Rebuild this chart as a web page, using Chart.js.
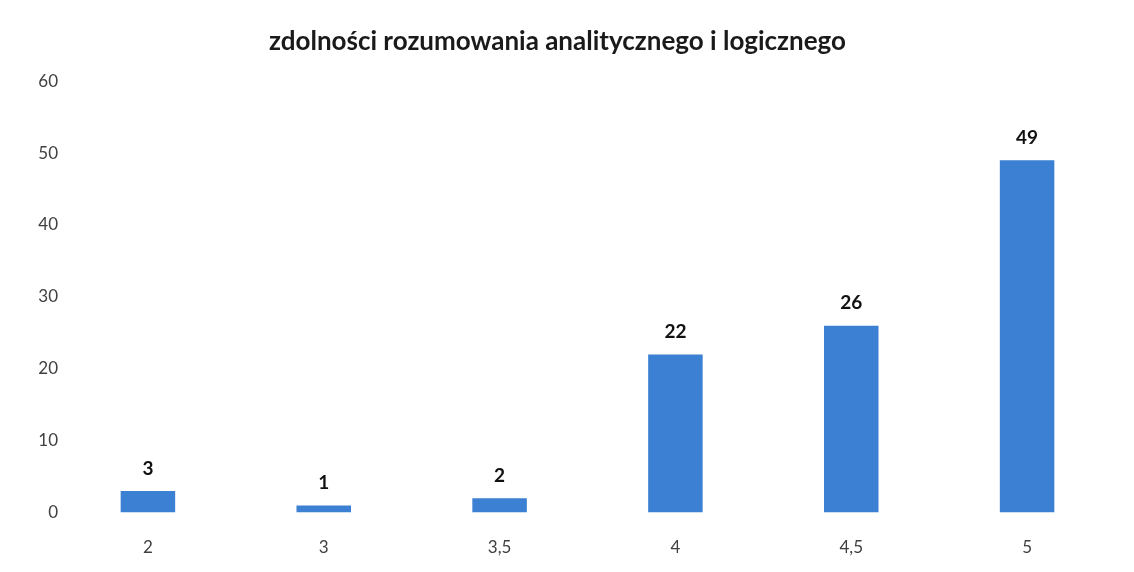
<!DOCTYPE html>
<html>
<head>
<meta charset="utf-8">
<script src="https://cdn.jsdelivr.net/npm/chart.js@4"></script>
<style>
    html, body { margin: 0; padding: 0; background: #ffffff; }
    #wrap { width: 1134px; height: 572px; }
</style>
</head>
<body>
<div id="wrap"><canvas id="barChart" width="1134" height="572"></canvas></div>
<script>
// data
const categories = ['2', '3', '3,5', '4', '4,5', '5'];
const counts = [3, 1, 2, 22, 26, 49];
const yTicks = [0, 10, 20, 30, 40, 50, 60];

Chart.defaults.font.family = "Lato, 'Open Sans', sans-serif";
Chart.defaults.color = '#404040';

// value above each bar, bold black
const valueLabels = {
    id: 'valueLabels',
    afterDatasetsDraw(chart) {
        const ctx = chart.ctx;
        const meta = chart.getDatasetMeta(0);
        ctx.save();
        ctx.font = "bold 19px Lato, 'Open Sans', sans-serif";
        ctx.fillStyle = '#111111';
        ctx.textAlign = 'center';
        ctx.textBaseline = 'bottom';
        meta.data.forEach((bar, i) => {
            ctx.fillText(counts[i], bar.x, bar.y - 13);
        });
        ctx.restore();
    }
};

new Chart(document.getElementById('barChart'), {
    type: 'bar',
    data: {
        labels: categories,
        datasets: [{
            data: counts,
            backgroundColor: '#3b80d2',
            borderWidth: 0,
            barPercentage: 0.31,
            categoryPercentage: 1
        }]
    },
    options: {
        responsive: false,
        animation: false,
        layout: {
            padding: { left: 0, right: 19, top: 0, bottom: -3 }
        },
        plugins: {
            legend: { display: false },
            tooltip: { enabled: false },
            title: {
                display: true,
                text: 'zdolności rozumowania analitycznego i logicznego',
                color: '#1a1a1a',
                font: { size: 26, weight: 'bold' },
                padding: { top: 26, bottom: 24 }
            }
        },
        scales: {
            y: {
                min: 0,
                max: 60,
                afterBuildTicks: (scale) => {
                    scale.ticks = yTicks.map(v => ({ value: v }));
                },
                afterFit: (scale) => { scale.width = 60; },
                grid: { display: false, drawTicks: false },
                border: { display: false },
                ticks: { font: { size: 17 }, padding: 2 }
            },
            x: {
                grid: { display: false },
                border: { display: false },
                ticks: { font: { size: 17 }, padding: 17 }
            }
        }
    },
    plugins: [valueLabels]
});
</script>
</body>
</html>
